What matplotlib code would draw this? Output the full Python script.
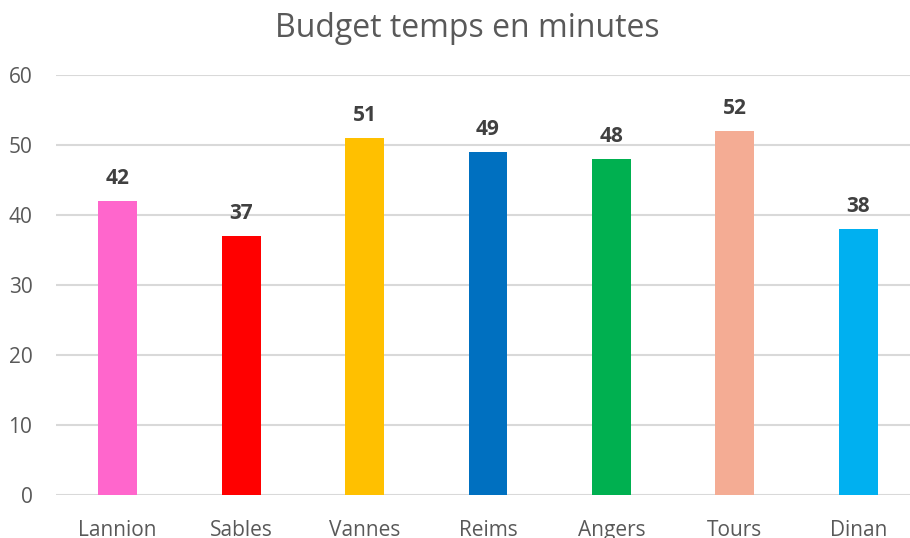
import matplotlib.pyplot as plt

# Budget temps en minutes
villes = ['Lannion', 'Sables', 'Vannes', 'Reims', 'Angers', 'Tours', 'Dinan']
minutes = [42, 37, 51, 49, 48, 52, 38]
couleurs = ['#FF66CC', '#FF0000', '#FFC000', '#0070C0', '#00B050', '#F4AC94', '#00B0F0']

plt.rcParams['font.family'] = ['Open Sans', 'DejaVu Sans']

fig = plt.figure(figsize=(9.1, 5.38), dpi=100)
ax = fig.add_axes([56/910, 43/538, 864/910, 420/538])

x = range(len(villes))
bars = ax.bar(x, minutes, width=0.314, color=couleurs, zorder=3)

for b, v in zip(bars, minutes):
    ax.annotate(str(v), (b.get_x() + b.get_width()/2, v), xytext=(0, 9),
                textcoords='offset points', ha='center', va='bottom',
                fontsize=15, fontweight='bold', color='#404040')

ax.set_xlim(-0.5, len(villes) - 0.5)
ax.set_ylim(0, 60)
ax.set_yticks(range(0, 61, 10))
ax.set_xticks(list(x))
ax.set_xticklabels(villes)
ax.grid(axis='y', color='#D9D9D9', linewidth=1.5, zorder=0)
for s in ['top', 'right', 'left', 'bottom']:
    ax.spines[s].set_visible(False)
ax.tick_params(axis='both', length=0, labelsize=15, labelcolor='#595959')
ax.tick_params(axis='y', pad=17)
ax.tick_params(axis='x', pad=18)

fig.text(467/910, 1 - 37/538, 'Budget temps en minutes', ha='center', va='baseline',
         fontsize=23, color='#595959')

fig.savefig('out.png', dpi=100)
